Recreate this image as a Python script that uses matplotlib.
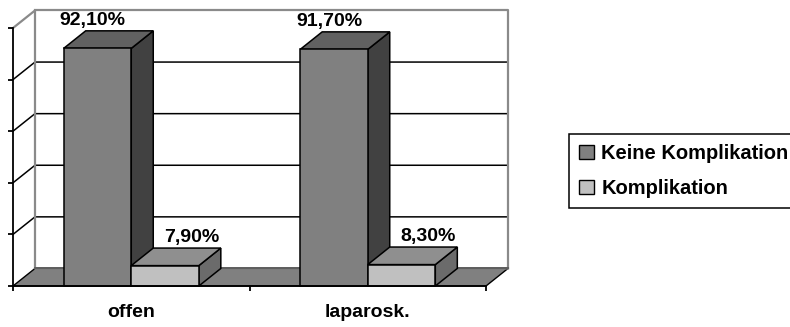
import matplotlib.pyplot as plt
from matplotlib.patches import Polygon, Patch

plt.rcParams['font.family'] = ['Liberation Sans', 'DejaVu Sans']
plt.rcParams['font.weight'] = 'bold'

# data
categories = ['offen', 'laparosk.']
series_names = ['Keine Komplikation', 'Komplikation']
keine = [92.1, 91.7]
komplikation = [7.9, 8.3]
values = [keine, komplikation]

# face colours per series: front, top, side
front_col = ['#808080', '#c0c0c0']
top_col = ['#616161', '#8f8f8f']
side_col = ['#414141', '#6b6b6b']

# oblique depth of the 3D box (x in category units, y in percent)
DX = 0.093
DY = 6.8
BAR_W = 0.2857
GAP = (1 - 2 * BAR_W) / 2
LABEL_SHIFT = [-0.066, 0.066]
WALL = '#8a8a8a'
FS = 14

fig = plt.figure(figsize=(7.9, 3.27), dpi=100)
ax = fig.add_axes([0, 0, 1, 1])
ax.set_xlim(-13 / 236.5, 777 / 236.5)
ax.set_ylim(-41 / 2.58, 286 / 2.58)
n = len(categories)

# floor
ax.add_patch(Polygon([(0, 0), (n, 0), (n + DX, DY), (DX, DY)],
                     closed=True, facecolor='#808080', edgecolor='black',
                     linewidth=1.0, zorder=1))
ax.plot([DX, n + DX], [DY, DY], color='#5a5a5a', lw=1.3, zorder=1.1)

# gridlines on the back wall plus their diagonals on the side wall
for g in [20, 40, 60, 80]:
    ax.plot([0, DX, n + DX], [g, g + DY, g + DY], color='black', lw=1.1, zorder=1)

# back wall outline
ax.plot([0, DX, DX, n + DX, n + DX], [100, 100 + DY, DY, DY, DY],
        color=WALL, lw=1.6, zorder=1)
ax.plot([DX, n + DX, n + DX], [100 + DY, 100 + DY, DY],
        color=WALL, lw=1.6, zorder=1)

# 3D columns
z = 3
for i in range(n):
    for j in range(len(values)):
        v = values[j][i]
        x0 = i + GAP + j * BAR_W
        x1 = x0 + BAR_W
        ax.add_patch(Polygon([(x1, 0), (x1 + DX, DY), (x1 + DX, v + DY), (x1, v)],
                             facecolor=side_col[j], edgecolor='black', lw=1.1, zorder=z))
        ax.add_patch(Polygon([(x0, v), (x1, v), (x1 + DX, v + DY), (x0 + DX, v + DY)],
                             facecolor=top_col[j], edgecolor='black', lw=1.1, zorder=z))
        ax.add_patch(Polygon([(x0, 0), (x1, 0), (x1, v), (x0, v)],
                             facecolor=front_col[j], edgecolor='black', lw=1.1, zorder=z))
        z += 1
        lbl = f'{v:.2f}'.replace('.', ',') + '%'
        ax.text((x0 + x1 + DX) / 2 + LABEL_SHIFT[j], v + DY + 2.2, lbl,
                ha='center', va='baseline', fontsize=FS, fontweight='bold', zorder=20)

# front axes
for side in ['top', 'right']:
    ax.spines[side].set_visible(False)
ax.spines['left'].set_position(('data', 0))
ax.spines['bottom'].set_position(('data', 0))
ax.spines['left'].set_bounds(0, 100)
ax.spines['bottom'].set_bounds(0, n)
for side in ['left', 'bottom']:
    ax.spines[side].set_linewidth(1.3)
    ax.spines[side].set_zorder(15)

ax.set_yticks([0, 20, 40, 60, 80, 100])
ax.set_yticklabels([])
ax.set_xticks(range(n + 1))
ax.set_xticklabels([])
ax.set_xticks([i + 0.5 for i in range(n)], minor=True)
ax.set_xticklabels(categories, minor=True, fontsize=FS, fontweight='bold')
ax.tick_params(axis='both', which='major', direction='out', length=3.6, width=1.3)
ax.tick_params(axis='x', which='minor', length=0, pad=13)

handles = [Patch(facecolor=front_col[j], edgecolor='black', linewidth=1.0)
           for j in range(len(series_names))]
leg = fig.legend(handles, series_names, loc='upper left',
                 bbox_to_anchor=(569 / 790, 1 - 134 / 327), borderaxespad=0,
                 prop={'weight': 'bold', 'size': 14.5},
                 frameon=True, fancybox=False, framealpha=1,
                 handlelength=0.75, handleheight=0.7, handletextpad=0.35,
                 labelspacing=0.8, borderpad=0.5)
leg.get_frame().set_edgecolor('black')
leg.get_frame().set_linewidth(1.1)

fig.savefig('out.png', dpi=100)
